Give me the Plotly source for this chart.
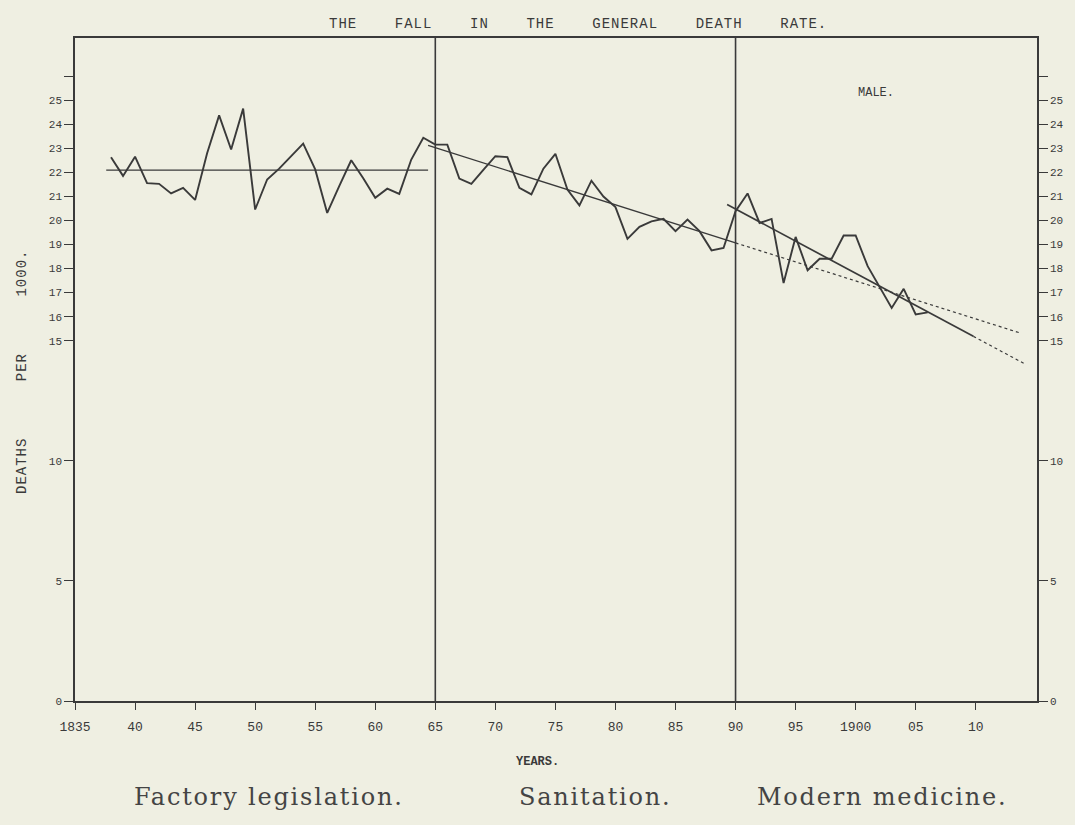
import plotly.graph_objects as go

# ---- data ----
years = list(range(1838, 1907))
death_rate = [
    22.64, 21.86, 22.66, 21.56, 21.53, 21.13, 21.36, 20.86, 22.80, 24.38,
    22.96, 24.66, 20.46, 21.71, 22.16, 22.70, 23.20, 22.13, 20.32, 21.43,
    22.51, 21.76, 20.95, 21.33, 21.11, 22.54, 23.45, 23.16, 23.16, 21.75,
    21.53, 22.11, 22.68, 22.64, 21.36, 21.09, 22.16, 22.78, 21.29, 20.63,
    21.66, 21.00, 20.56, 19.24, 19.74, 19.97, 20.07, 19.56, 20.04, 19.56,
    18.76, 18.86, 20.39, 21.13, 19.90, 20.07, 17.40, 19.32, 17.93, 18.41,
    18.41, 19.38, 19.38, 18.10, 17.26, 16.36, 17.16, 16.09, 16.18,
]

# trend lines (start/end years and values)
trend1_years = [1837.6, 1864.4]
trend1_vals = [22.10, 22.10]
trend2_years = [1864.4, 1890.0]
trend2_vals = [23.13, 19.07]
trend2_ext_years = [1890.0, 1913.7]
trend2_ext_vals = [19.07, 15.32]
trend3_years = [1889.3, 1909.8]
trend3_vals = [20.67, 15.18]
trend3_ext_years = [1909.8, 1914.1]
trend3_ext_vals = [15.18, 14.03]

era_boundaries = [1865, 1890]

x_tickvals = [1835, 1840, 1845, 1850, 1855, 1860, 1865, 1870, 1875, 1880,
              1885, 1890, 1895, 1900, 1905, 1910]
x_ticktext = ["1835", "40", "45", "50", "55", "60", "65", "70", "75", "80",
              "85", "90", "95", "1900", "05", "10"]
y_tickvals = [0, 5, 10, 15, 16, 17, 18, 19, 20, 21, 22, 23, 24, 25, 26]
y_ticktext = ["0", "5", "10", "15", "16", "17", "18", "19", "20", "21",
              "22", "23", "24", "25", ""]

era_labels = ["Factory legislation.", "Sanitation.", "Modern medicine."]

# ---- style ----
BG = "rgb(239,239,226)"
INK = "#3a3a3a"
MONO = "Liberation Mono, DejaVu Sans Mono, monospace"
SERIF = "DejaVu Serif, Liberation Serif, serif"

W, H = 1075, 825
L, R, T, B = 75, 38, 38, 124
PW, PH = W - L - R, H - T - B


def px(X):
    return (X - L) / PW


def py(Y):
    return (H - B - Y) / PH


fig = go.Figure()

for xv in era_boundaries:
    fig.add_trace(go.Scatter(x=[xv, xv], y=[0, 27.6], mode="lines",
                             line=dict(color=INK, width=1.6),
                             hoverinfo="skip", showlegend=False))

fig.add_trace(go.Scatter(x=trend1_years, y=trend1_vals, mode="lines",
                         line=dict(color=INK, width=1.4), showlegend=False))
fig.add_trace(go.Scatter(x=trend2_years, y=trend2_vals, mode="lines",
                         line=dict(color=INK, width=1.4), showlegend=False))
fig.add_trace(go.Scatter(x=trend2_ext_years, y=trend2_ext_vals, mode="lines",
                         line=dict(color=INK, width=1.2, dash="dot"),
                         showlegend=False))
fig.add_trace(go.Scatter(x=trend3_years, y=trend3_vals, mode="lines",
                         line=dict(color=INK, width=1.7), showlegend=False))
fig.add_trace(go.Scatter(x=trend3_ext_years, y=trend3_ext_vals, mode="lines",
                         line=dict(color=INK, width=1.2, dash="dot"),
                         showlegend=False))

fig.add_trace(go.Scatter(x=years, y=death_rate, mode="lines",
                         line=dict(color=INK, width=1.9), showlegend=False))

# right-hand axis (same scale)
fig.add_trace(go.Scatter(x=[years[0]], y=[death_rate[0]], yaxis="y2",
                         mode="markers", marker=dict(opacity=0),
                         hoverinfo="skip", showlegend=False))

fig.update_layout(
    width=W, height=H,
    margin=dict(l=L, r=R, t=T, b=B),
    paper_bgcolor=BG, plot_bgcolor=BG,
    font=dict(family=MONO, color=INK, size=12),
    xaxis=dict(range=[1835, 1915.1], tickvals=x_tickvals, ticktext=x_ticktext,
               ticks="outside", ticklen=7, tickwidth=1.2, tickcolor=INK,
               ticklabelstandoff=6,
               showline=True, linecolor=INK, linewidth=1.6, mirror=True,
               showgrid=False, zeroline=False,
               tickfont=dict(family=MONO, size=13, color=INK)),
    yaxis=dict(range=[0, 27.6], tickvals=y_tickvals, ticktext=y_ticktext,
               ticks="outside", ticklen=9, tickwidth=1.2, tickcolor=INK,
               showline=True, linecolor=INK, linewidth=1.6,
               showgrid=False, zeroline=False,
               tickfont=dict(family=MONO, size=11, color=INK)),
    yaxis2=dict(range=[0, 27.6], tickvals=y_tickvals, ticktext=y_ticktext,
                overlaying="y", side="right",
                ticks="outside", ticklen=9, tickwidth=1.2, tickcolor=INK,
                showline=True, linecolor=INK, linewidth=1.6,
                showgrid=False, zeroline=False,
                tickfont=dict(family=MONO, size=11, color=INK)),
)

NB = "\u00a0"
title_text = (NB * 4).join(["THE", "FALL", "IN", "THE", "GENERAL", "DEATH", "RATE."])
ytitle_text = (NB * 6).join(["DEATHS", "PER", "1000."])


def spaced(text, ls):
    return '<span style="letter-spacing:%spx">%s</span>' % (ls, text)


annotations = [
    dict(text=spaced(title_text, 1), x=px(578), y=py(24),
         font=dict(size=14, family=MONO)),
    dict(text="MALE.", x=px(876), y=py(93), font=dict(size=12, family=MONO)),
    dict(text="<b>YEARS.</b>", x=px(537), y=py(762), font=dict(size=12, family=MONO)),
    dict(text=spaced(ytitle_text, 1), x=px(22), y=py(372), textangle=-90,
         font=dict(size=14, family=MONO)),
]
for label, cx in zip(era_labels, [269, 595, 882]):
    annotations.append(dict(text=spaced(label, 1.8), x=px(cx), y=py(797),
                            font=dict(size=24, family=SERIF, color="#444")))
for a in annotations:
    a.update(xref="paper", yref="paper", showarrow=False,
             xanchor="center", yanchor="middle")
fig.update_layout(annotations=annotations)

fig.write_html(
    "out.html",
    config={"displayModeBar": False},
    post_script="document.body.style.margin='0';"
                "document.body.style.background='%s';" % BG,
)
